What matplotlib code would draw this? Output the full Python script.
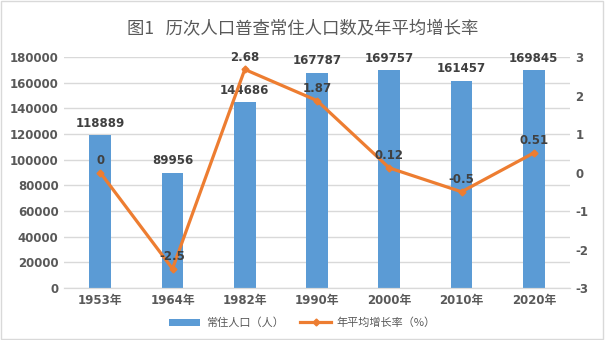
import matplotlib.pyplot as plt
from matplotlib.patches import Rectangle

plt.rcParams['font.family'] = ['DejaVu Sans', 'Noto Sans CJK SC']
plt.rcParams['axes.unicode_minus'] = False

# 历次人口普查数据
years = ['1953年', '1964年', '1982年', '1990年', '2000年', '2010年', '2020年']
population = [118889, 89956, 144686, 167787, 169757, 161457, 169845]
growth_rate = [0, -2.5, 2.68, 1.87, 0.12, -0.5, 0.51]

bar_color = '#5B9BD5'
line_color = '#ED7D31'
tick_color = '#595959'
label_color = '#404040'
cjk = ['Noto Sans CJK SC', 'DejaVu Sans']

fig = plt.figure(figsize=(6.05, 3.4), dpi=100)
ax = fig.add_axes([0.106, 0.153, 0.836, 0.679])
ax2 = ax.twinx()

x = list(range(len(years)))
bars = ax.bar(x, population, width=0.3, color=bar_color, zorder=2)
ax.set_ylim(0, 180000)
ax.set_yticks(range(0, 180001, 20000))
ax.set_xlim(-0.5, len(years) - 0.5)
ax.set_xticks(x)
ax.set_xticklabels(years)
ax.yaxis.grid(True, color='#D9D9D9', linewidth=1, zorder=0)
ax.set_axisbelow(True)

for xi, v in zip(x, population):
    ax.annotate(str(v), (xi, v), xytext=(0, 4), textcoords='offset points',
                ha='center', va='bottom', fontsize=8.5, fontweight='bold',
                color=label_color)

line, = ax2.plot(x, growth_rate, color=line_color, linewidth=2.3,
                 marker='D', markersize=3.5, zorder=3)
ax2.set_ylim(-3, 3)
ax2.set_yticks(range(-3, 4))

for xi, v in zip(x, growth_rate):
    ax2.annotate(f'{v:g}', (xi, v), xytext=(0, 4), textcoords='offset points',
                 ha='center', va='bottom', fontsize=8.5, fontweight='bold',
                 color=label_color)

for a in (ax, ax2):
    for side in ('top', 'left', 'right'):
        a.spines[side].set_visible(False)
    a.spines['bottom'].set_color('#D9D9D9')
    a.tick_params(length=0, labelcolor=tick_color, labelsize=8.5, pad=4)
    for t in a.get_yticklabels() + a.get_xticklabels():
        t.set_fontweight('bold')

fig.text(0.5, 0.915, '图1   历次人口普查常住人口数及年平均增长率',
         ha='center', va='center', fontsize=12.5, color=tick_color,
         family=cjk)

fig.legend([bars, line], ['常住人口（人）', '年平均增长率（%）'],
           loc='center', bbox_to_anchor=(0.5, 0.05), ncol=2, frameon=False,
           prop={'family': cjk, 'size': 8}, labelcolor=tick_color,
           handlelength=2.8, columnspacing=1.5, handletextpad=0.5)

# 图表外框
fig.patches.append(Rectangle((0.002, 0.003), 0.995, 0.994,
                             transform=fig.transFigure, fill=False,
                             edgecolor='#D9D9D9', linewidth=1))

fig.savefig('out.png', dpi=100)
